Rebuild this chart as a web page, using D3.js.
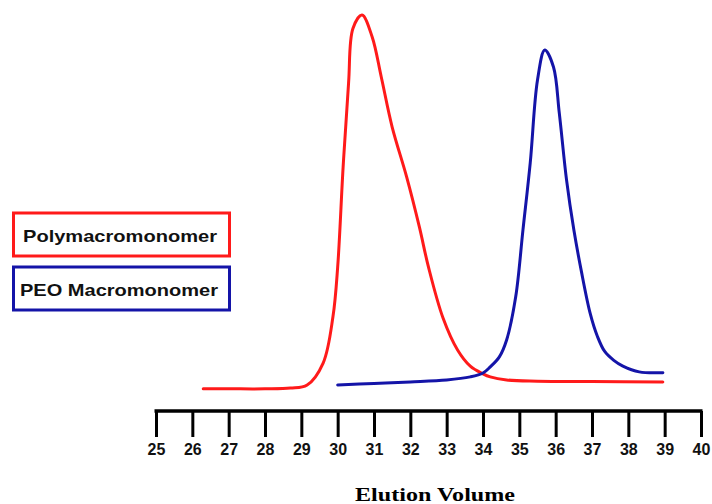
<!DOCTYPE html>
<html>
<head>
<meta charset="utf-8">
<script src="https://cdn.jsdelivr.net/npm/d3@7"></script>
<style>
  html, body { margin: 0; padding: 0; background: #fff; }
  svg { display: block; }
</style>
</head>
<body>
<svg id="chart" width="712" height="504"></svg>
<script>
// Elution volume ticks
const tickValues = [25, 26, 27, 28, 29, 30, 31, 32, 33, 34, 35, 36, 37, 38, 39, 40];

// Polymacromonomer trace (elution volume, relative signal)
const polyVolume = [26.3, 27.0, 28.0, 28.7, 29.16, 29.6, 29.87, 30.0, 30.15, 30.3, 30.42, 30.67, 30.95, 31.2, 31.5, 31.9, 32.25, 32.5, 32.9, 33.3, 33.65, 34.0, 34.2, 34.65, 35.5, 37.0, 38.95];
const polySignal = [2.9, 2.9, 2.9, 3.1, 3.9, 9.6, 21.6, 34.5, 60.5, 82.3, 96.5, 100, 94.3, 83.9, 70.9, 57.9, 44.9, 34.5, 21.3, 13.0, 8.8, 6.8, 6.0, 5.2, 4.9, 4.8, 4.7];

// PEO macromonomer trace
const peoVolume = [30.0, 31.0, 32.0, 33.0, 33.65, 34.0, 34.2, 34.45, 34.65, 34.9, 35.1, 35.3, 35.5, 35.7, 35.94, 36.1, 36.3, 36.5, 36.7, 36.95, 37.15, 37.35, 37.6, 37.85, 38.3, 38.95];
const peoSignal = [3.9, 4.3, 4.7, 5.2, 6.0, 7.0, 8.6, 11.2, 15.6, 26.8, 44.2, 61.6, 83.1, 90.9, 86.5, 74.5, 57.1, 44.2, 33.8, 22.5, 16.5, 12.6, 10.3, 8.8, 7.3, 7.1];

const seriesNames = ["Polymacromonomer", "PEO Macromonomer"];
const seriesColors = ["#ff1a1a", "#1414a8"];
const axisTitle = "Elution Volume";

const svg = d3.select("#chart");

const x = d3.scaleLinear().domain([25, 40]).range([156, 701]);
const y = d3.scaleLinear().domain([0, 100]).range([400, 15]);

const line = d3.line()
  .x(d => x(d[0]))
  .y(d => y(d[1]))
  .curve(d3.curveCatmullRom.alpha(0.5));

const traces = [
  d3.zip(polyVolume, polySignal),
  d3.zip(peoVolume, peoSignal)
];

traces.forEach((pts, i) => {
  svg.append("path")
    .datum(pts)
    .attr("d", line)
    .attr("fill", "none")
    .attr("stroke", seriesColors[i])
    .attr("stroke-width", 3)
    .attr("stroke-linejoin", "round")
    .attr("stroke-linecap", "round");
});

// Axis
const axis = d3.axisBottom(x)
  .tickValues(tickValues)
  .tickFormat(d3.format("d"))
  .tickSizeInner(26)
  .tickSizeOuter(0)
  .tickPadding(7);

const gAxis = svg.append("g")
  .attr("transform", "translate(0,411)")
  .call(axis);

gAxis.select(".domain")
  .attr("stroke", "#000")
  .attr("stroke-width", 3.5)
  .attr("d", `M${x(25) - 1.5},0H${x(40) + 1.5}`);
gAxis.selectAll(".tick line")
  .attr("stroke", "#000")
  .attr("stroke-width", 3);
gAxis.selectAll(".tick text")
  .attr("fill", "#111")
  .style("font-family", "'Liberation Sans', Arial, sans-serif")
  .style("font-weight", "bold")
  .style("font-size", "16px");

svg.append("text")
  .attr("x", 435)
  .attr("y", 501)
  .attr("text-anchor", "middle")
  .attr("textLength", 160)
  .attr("lengthAdjust", "spacingAndGlyphs")
  .style("font-family", "'Liberation Serif', 'Times New Roman', serif")
  .style("font-weight", "bold")
  .style("font-size", "19px")
  .attr("fill", "#000")
  .text(axisTitle);

// Legend boxes
const legend = svg.append("g");
const boxTop = [213, 267];
const labelX = [23, 20];
const labelW = [194, 198];
seriesNames.forEach((name, i) => {
  legend.append("rect")
    .attr("x", 13.5)
    .attr("y", boxTop[i])
    .attr("width", 216)
    .attr("height", 43)
    .attr("fill", "#fff")
    .attr("stroke", seriesColors[i])
    .attr("stroke-width", 3);
  legend.append("text")
    .attr("x", labelX[i])
    .attr("y", boxTop[i] + 29)
    .attr("textLength", labelW[i])
    .attr("lengthAdjust", "spacingAndGlyphs")
    .style("font-family", "'Liberation Sans', Arial, sans-serif")
    .style("font-weight", "bold")
    .style("font-size", "17px")
    .attr("fill", "#111")
    .text(name);
});
</script>
</body>
</html>
